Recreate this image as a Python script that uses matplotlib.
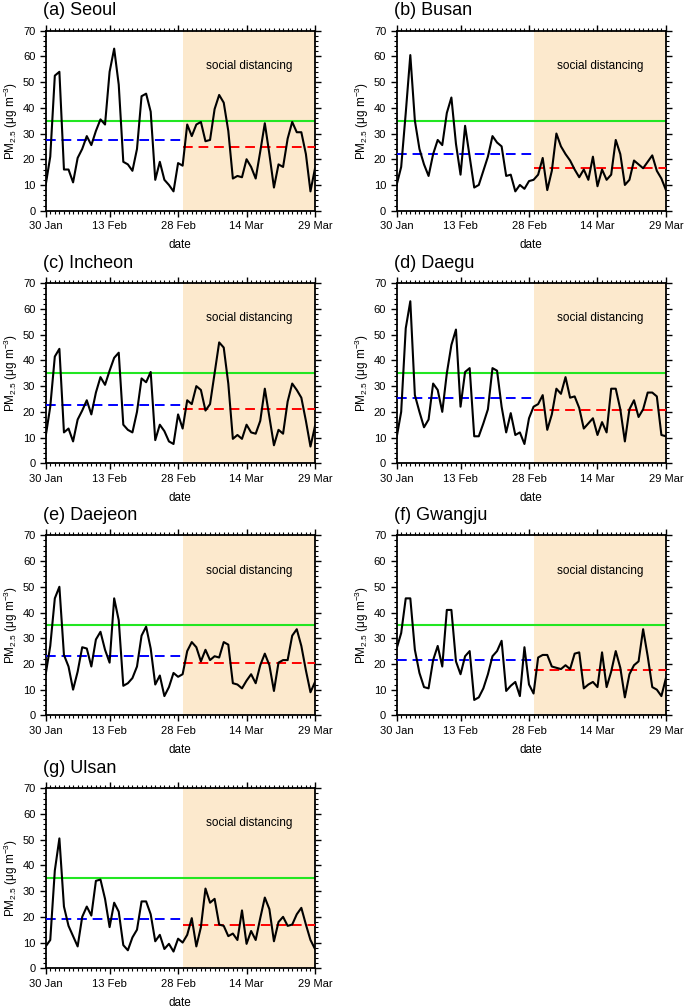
import numpy as np
import pandas as pd
import matplotlib
matplotlib.use("Agg")
import matplotlib.pyplot as plt
import matplotlib.dates as mdates

plt.rcParams["font.family"] = ["Liberation Sans", "DejaVu Sans"]
plt.rcParams["mathtext.default"] = "regular"

# daily PM2.5, 30 Jan - 29 Mar 2020
dates = pd.date_range("2020-01-30", "2020-03-29", freq="D")
start_sd = pd.Timestamp("2020-02-29")

tick_dates = ["2020-01-30", "2020-02-13", "2020-02-28", "2020-03-14", "2020-03-29"]
tick_labels = ["30 Jan", "13 Feb", "28 Feb", "14 Mar", "29 Mar"]

titles = ["(a) Seoul", "(b) Busan", "(c) Incheon", "(d) Daegu",
          "(e) Daejeon", "(f) Gwangju", "(g) Ulsan"]

seoul = [10, 21, 52.5, 54, 16, 16, 11, 20.5, 24, 29,
         25.5, 31, 35.5, 33.5, 54, 63, 49, 19, 18, 15.5,
         24, 44.5, 45.5, 38.5, 12, 19, 12, 10, 7.5, 18.5,
         17.5, 33.5, 29, 33.5, 34.5, 27, 27.5, 39.5, 45, 42,
         31, 12.5, 13.5, 13, 20, 17, 12.5, 23, 34, 22,
         9, 18, 17, 28, 34.5, 30.5, 30.5, 22, 7.5, 16.5]
busan = [10, 17, 38, 60.5, 35, 24, 18, 13.5, 22, 27.5,
         25.5, 38, 44, 26, 14, 33, 21, 9, 10, 15.5,
         21, 29, 26.5, 25, 13.5, 14, 7.5, 10, 8.5, 11.5,
         12, 14, 20.5, 8, 15.5, 30, 25, 22, 19.5, 16,
         13, 16, 12, 21, 9.5, 16, 12, 14, 27.5, 22,
         10, 12, 19.5, 18, 16.5, 19, 21.5, 15.5, 12.5, 8]
incheon = [10.5, 22, 41.5, 44.5, 12, 13.5, 8.5, 17, 20.5, 24.5,
           19, 27.5, 33.5, 30.5, 36, 41, 43, 15, 13, 12,
           20, 33, 31.5, 35.5, 9, 15, 12.5, 8.5, 7.5, 19,
           13.5, 24.5, 23, 30, 28.5, 20.5, 23, 35, 47, 45,
           31, 9.5, 11, 9.5, 15, 12, 11.5, 16.5, 29, 18,
           7, 13, 11.5, 24, 31, 28.5, 25.5, 16.5, 6.5, 14.5]
daegu = [10, 20, 52.5, 63, 26.5, 20, 14, 17, 31, 28.5,
         20, 35, 46, 52, 22, 35.5, 37, 10.5, 10.5, 15.5,
         21, 37, 36, 22, 12, 19.5, 11, 12, 7.5, 17.5,
         22, 23, 26.5, 13, 19, 29, 27, 33.5, 25.5, 26,
         21.5, 13.5, 15.5, 17.5, 11, 16, 12, 29, 29, 21,
         8.5, 21, 24.5, 18, 21, 27.5, 27.5, 26, 11, 10.5]
daejeon = [16, 27, 45.5, 50, 23.5, 19, 10, 17, 26.5, 26,
           19, 29.5, 32.5, 25.5, 20.5, 45.5, 37, 11.5, 12.5, 14.5,
           19, 31, 34.5, 26, 12, 15.5, 7.5, 11, 16.5, 15,
           16, 25, 28.5, 26.5, 21, 25.5, 21.5, 23, 22.5, 28.5,
           27.5, 12.5, 12, 10.5, 13.5, 16, 12.5, 19.5, 24, 19.5,
           9.5, 20.5, 21.5, 21.5, 31, 33.5, 27, 17.5, 9, 13]
gwangju = [26, 32, 45.5, 45.5, 25.5, 16.5, 11, 10.5, 21.5, 27,
           19, 41, 41, 21, 16, 23, 25, 6, 7, 10.5,
           16, 23, 25, 29, 9.5, 11.5, 13, 7.5, 26.5, 12,
           8.5, 22.5, 23.5, 23.5, 19, 18.5, 18, 19.5, 18, 24,
           24.5, 10.5, 12, 13, 11, 24.5, 11, 17, 25, 18.5,
           7, 16, 19.5, 21, 33.5, 23, 11, 10, 7.5, 14.5]
ulsan = [8.5, 11, 38, 50.5, 24, 16.5, 12.5, 8.5, 20, 24,
         20.5, 34, 34.5, 27, 16, 25.5, 22, 9, 7, 12,
         15, 26, 26, 21, 10.5, 13, 7.5, 9.5, 6.5, 11.5,
         10, 13, 19.5, 8.5, 16, 31, 25.5, 27, 17, 16.5,
         12.5, 13.5, 11, 22.5, 9.5, 14.5, 11, 19.5, 27.5, 23,
         10.5, 18, 20, 16.5, 17, 21, 23.5, 17, 11, 7.5]

cities = [seoul, busan, incheon, daegu, daejeon, gwangju, ulsan]

# period means (before / during social distancing) and the daily standard
mean_before = [27.5, 22.1, 22.7, 25.3, 23.1, 21.5, 19.0]
mean_during = [24.7, 16.7, 21.0, 20.8, 20.2, 17.5, 17.0]
standard = 35

# panel positions in figure fractions
col_x = [0.0667, 0.579]
row_y = [0.791, 0.5404, 0.2903, 0.0394]
pw, ph = 0.3932, 0.1786

fig = plt.figure(figsize=(6.85, 10.08), dpi=100)

for k, (vals, title) in enumerate(zip(cities, titles)):
    ax = fig.add_axes([col_x[k % 2], row_y[k // 2], pw, ph])

    # shaded social distancing period
    ax.axvspan(start_sd, dates[-1], color="#fce9cd", lw=0, zorder=0)
    ax.text(start_sd + (dates[-1] - start_sd) / 2, 56.3, "social distancing",
            ha="center", va="center", fontsize=8.5, zorder=1)

    ax.axhline(standard, color="#22e622", lw=1.5, zorder=2)
    ax.plot([dates[0], start_sd], [mean_before[k]] * 2, color="#0000ff",
            lw=1.4, dashes=(5, 3), zorder=3)
    ax.plot([start_sd, dates[-1]], [mean_during[k]] * 2, color="#ff0000",
            lw=1.4, dashes=(5, 3), zorder=3)
    ax.plot(dates, vals, color="black", lw=1.5, zorder=4)

    ax.set_xlim(dates[0], dates[-1])
    ax.set_ylim(0, 70)
    ax.set_xticks(pd.to_datetime(tick_dates))
    ax.set_xticklabels(tick_labels)
    ax.xaxis.set_minor_locator(mdates.DayLocator())
    ax.set_yticks(np.arange(0, 71, 10))
    ax.set_yticks(np.arange(0, 71, 2), minor=True)

    ax.tick_params(which="both", direction="out", top=True, right=True,
                   labelsize=8, width=1.0, pad=3)
    ax.tick_params(which="major", length=4.5)
    ax.tick_params(which="minor", length=2.2, width=0.8)
    for s in ax.spines.values():
        s.set_linewidth(1.3)

    ax.set_xlabel("date", fontsize=8.5, labelpad=6)
    ax.set_ylabel(r"PM$_{2.5}$ ($\mu$g m$^{-3}$)", fontsize=8.5, labelpad=2)
    ax.text(-0.01, 1.065, title, transform=ax.transAxes, fontsize=13,
            ha="left", va="bottom")

fig.savefig("out.png", dpi=100)
